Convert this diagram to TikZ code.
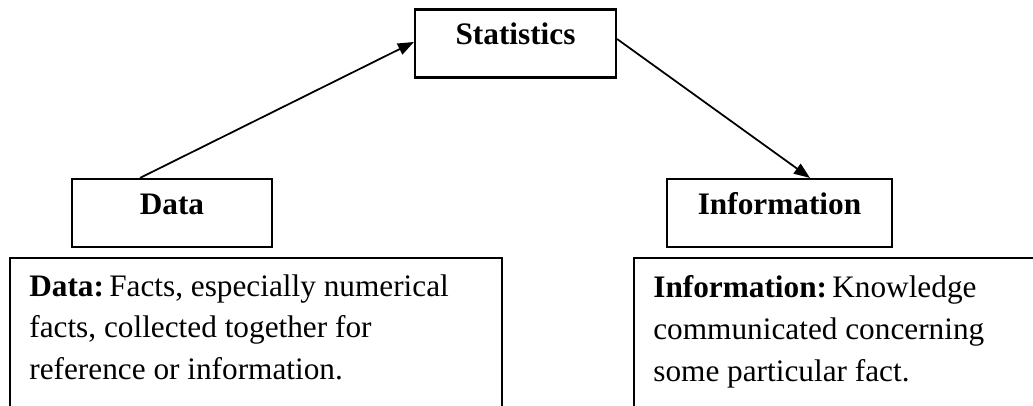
\documentclass[tikz,border=0pt]{standalone}
\usepackage{fontspec}
\setmainfont{Liberation Serif}
\usetikzlibrary{arrows.meta}

\begin{document}
\begin{tikzpicture}[every node/.style={font=\fontsize{17.8}{23.8}\selectfont},
    headbox/.style={draw,line width=1.2pt,font=\fontsize{17.8}{23.8}\selectfont\bfseries,inner ysep=0pt,text height=0.71cm,text depth=0.65cm},
    descbox/.style={draw,line width=1.2pt,anchor=north west,minimum height=4cm},
    desctext/.style={anchor=north west,inner sep=0pt,align=left},
    link/.style={line width=1pt,-{Triangle[length=0.32cm,width=0.24cm]}}]
    \useasboundingbox (0,0) rectangle (20.66,8.12);
    \clip (0,0) rectangle (20.66,8.12);
    \node[headbox,minimum width=4.02cm] (stats) at (10.31,7.25) {Statistics};
    \node[headbox,minimum width=4cm] (data) at (3.44,3.86) {Data};
    \node[headbox,minimum width=4.5cm] (info) at (15.59,3.86) {Information};
    \node[descbox,minimum width=9.84cm] (datadesc) at (0.18,2.98) {};
    \node[descbox,minimum width=10cm] (infodesc) at (12.66,2.98) {};
    \node[desctext] (datatext) at ([shift={(0.4,-0.34)}]datadesc.north west) {\textbf{Data:}\,Facts, especially numerical\\ facts, collected together for\\ reference or information.};
    \node[desctext] (infotext) at ([shift={(0.4,-0.36)}]infodesc.north west) {\textbf{Information:}\,Knowledge\\ communicated concerning\\ some particular fact.};
    \draw[link] ([xshift=-0.64cm]data.north) -- ([yshift=0.03cm]stats.west); \draw[link] ([yshift=0.09cm]stats.east) -- ([xshift=0.61cm]info.north);
  \end{tikzpicture}
\end{document}
